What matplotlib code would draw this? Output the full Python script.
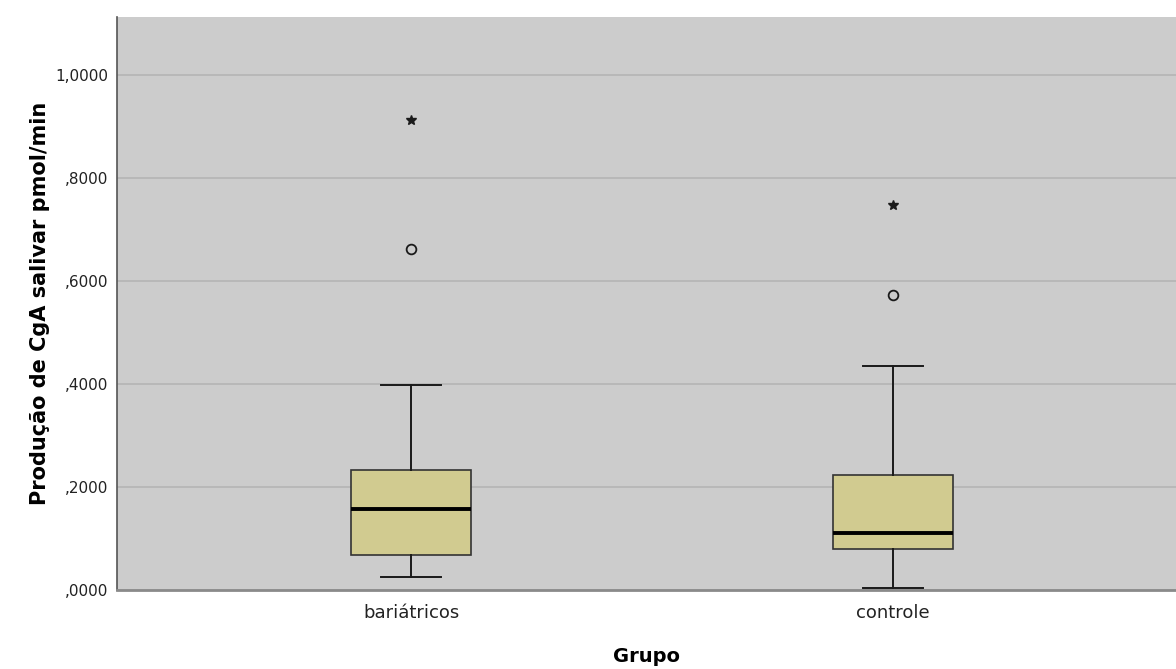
import matplotlib
matplotlib.use('Agg')
import matplotlib.pyplot as plt
from matplotlib.ticker import FuncFormatter

# Summary statistics per group (pmol/min)
groups = ["bariátricos", "controle"]
whisker_low = [0.025, 0.004]
q1 = [0.068, 0.080]
median = [0.157, 0.111]
q3 = [0.233, 0.223]
whisker_high = [0.398, 0.435]
outliers = [[0.662], [0.573]]          # drawn as circles
extremes = [[0.913], [0.748]]          # drawn as stars

BOX_COLOR = '#D1CB90'
BG_COLOR = '#CCCCCC'

fig = plt.figure(figsize=(11.76, 6.69), dpi=100)
ax = fig.add_axes([117 / 1176, 79 / 669, 1 - 117 / 1176, (590 - 17) / 669])
ax.set_facecolor(BG_COLOR)

stats = []
for i, g in enumerate(groups):
    stats.append(dict(label=g, whislo=whisker_low[i], q1=q1[i], med=median[i],
                      q3=q3[i], whishi=whisker_high[i], fliers=[]))

positions = list(range(1, len(groups) + 1))
ax.bxp(stats, positions=positions, widths=0.25, patch_artist=True,
       showfliers=False,
       boxprops=dict(facecolor=BOX_COLOR, edgecolor='#333333', linewidth=1.2),
       medianprops=dict(color='black', linewidth=2.8),
       whiskerprops=dict(color='#1a1a1a', linewidth=1.4),
       capprops=dict(color='#1a1a1a', linewidth=1.4), capwidths=0.125,
       zorder=3)

for pos, vals in zip(positions, outliers):
    ax.plot([pos] * len(vals), vals, linestyle='none', marker='o', ms=7,
            mfc='none', mec='#1a1a1a', mew=1.3, zorder=4)
for pos, vals in zip(positions, extremes):
    ax.plot([pos] * len(vals), vals, linestyle='none', marker='*', ms=7,
            color='#1a1a1a', zorder=4)

ax.set_xlim(0.39, 2.587)
ax.set_ylim(0, 1.113)
ax.set_yticks([0, 0.2, 0.4, 0.6, 0.8, 1.0])
ax.yaxis.set_major_formatter(FuncFormatter(
    lambda v, _: f"{v:.4f}".replace('.', ',').lstrip('0') if v < 1 else f"{v:.4f}".replace('.', ',')))
ax.grid(axis='y', color='#B5B5B5', linewidth=1.2, zorder=0)
ax.set_axisbelow(True)

ax.set_xticks(positions)
ax.set_xticklabels(groups, fontsize=13)
ax.tick_params(axis='both', length=0, colors='#222222')
ax.tick_params(axis='y', labelsize=11, pad=6)
ax.tick_params(axis='x', pad=10)

for side in ('top', 'right'):
    ax.spines[side].set_visible(False)
ax.spines['left'].set_color('#555555')
ax.spines['left'].set_linewidth(1.2)
ax.spines['bottom'].set_color('#8a8a8a')
ax.spines['bottom'].set_linewidth(2)

ax.set_xlabel('Grupo', fontsize=14, fontweight='bold', labelpad=18)
ax.set_ylabel('Produção de CgA salivar pmol/min', fontsize=15, fontweight='bold', labelpad=4)

fig.savefig('out.png', dpi=100)
